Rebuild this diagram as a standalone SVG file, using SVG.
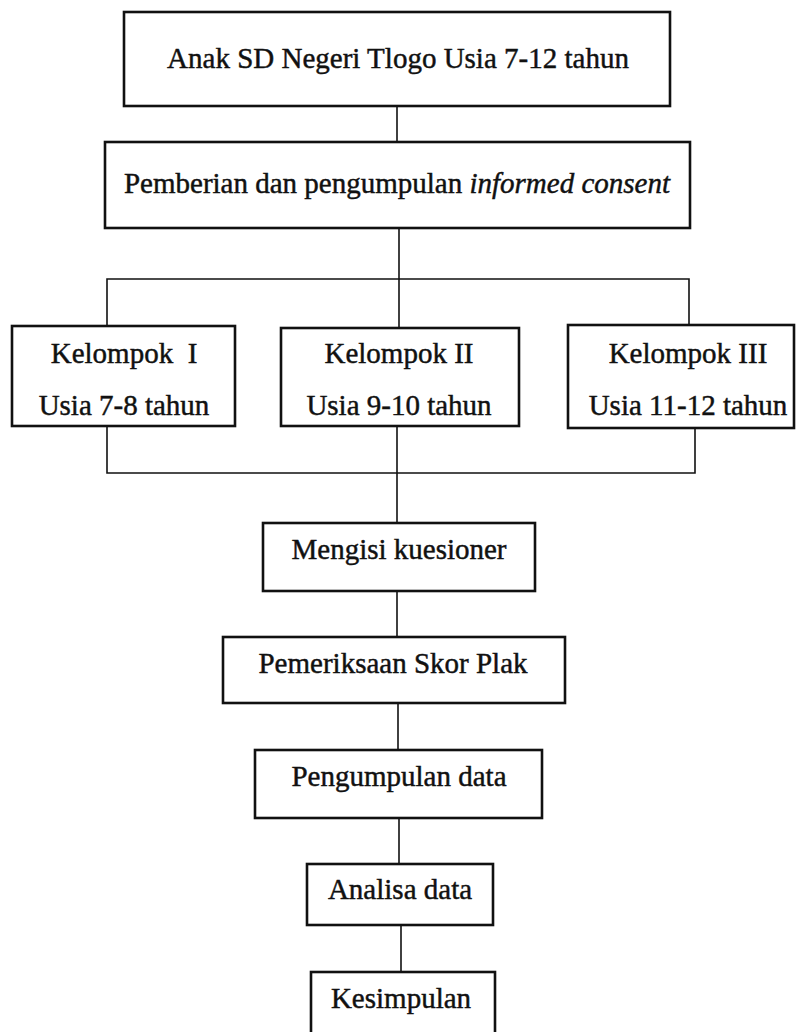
<svg xmlns="http://www.w3.org/2000/svg" width="796" height="1032" viewBox="0 0 796 1032">
<style>
.box{fill:#fff;stroke:#111;stroke-width:2.6}
.t{font-family:"Liberation Serif","Times New Roman",serif;font-size:29px;fill:#111;stroke:#111;stroke-width:0.45;text-anchor:middle}
.c{fill:none;stroke:#111;stroke-width:1.6}
</style>
<rect width="796" height="1032" fill="#fff"/>
<g id="connectors">
<line class="c" x1="397" y1="106" x2="397" y2="142"/>
<line class="c" x1="399" y1="228" x2="399" y2="328"/>
<polyline class="c" points="107,326 107,279 689,279 689,325"/>
<polyline class="c" points="107,426 107,473 695,473 695,428"/>
<line class="c" x1="397" y1="426" x2="397" y2="523"/>
<line class="c" x1="397" y1="591" x2="397" y2="637"/>
<line class="c" x1="398" y1="703" x2="398" y2="750"/>
<line class="c" x1="399" y1="818" x2="399" y2="864"/>
<line class="c" x1="401" y1="925" x2="401" y2="972"/>
</g>
<g id="n1">
<rect class="box" x="124" y="12" width="546" height="94"/>
<text class="t" x="398" y="68">Anak SD Negeri Tlogo Usia 7-12 tahun</text>
</g>
<g id="n2">
<rect class="box" x="105" y="142" width="585" height="86"/>
<text class="t" x="397" y="193">Pemberian dan pengumpulan <tspan font-style="italic">informed consent</tspan></text>
</g>
<g id="n3">
<rect class="box" x="12" y="326" width="223" height="100"/>
<text class="t" x="124" y="363">Kelompok&#160; I</text>
<text class="t" x="124" y="415">Usia 7-8 tahun</text>
</g>
<g id="n4">
<rect class="box" x="281" y="328" width="238" height="98"/>
<text class="t" x="399" y="363">Kelompok II</text>
<text class="t" x="399" y="415">Usia 9-10 tahun</text>
</g>
<g id="n5">
<rect class="box" x="568" y="325" width="226" height="103"/>
<text class="t" x="688" y="363">Kelompok III</text>
<text class="t" x="688" y="415">Usia 11-12 tahun</text>
</g>
<g id="n6">
<rect class="box" x="263" y="523" width="272" height="68"/>
<text class="t" x="399" y="559">Mengisi kuesioner</text>
</g>
<g id="n7">
<rect class="box" x="223" y="637" width="342" height="66"/>
<text class="t" x="393" y="673">Pemeriksaan Skor Plak</text>
</g>
<g id="n8">
<rect class="box" x="255" y="750" width="287" height="68"/>
<text class="t" x="399" y="786">Pengumpulan data</text>
</g>
<g id="n9">
<rect class="box" x="307" y="864" width="186" height="61"/>
<text class="t" x="400" y="899">Analisa data</text>
</g>
<g id="n10">
<rect class="box" x="311" y="972" width="184" height="70"/>
<text class="t" x="401" y="1008">Kesimpulan</text>
</g>
</svg>
